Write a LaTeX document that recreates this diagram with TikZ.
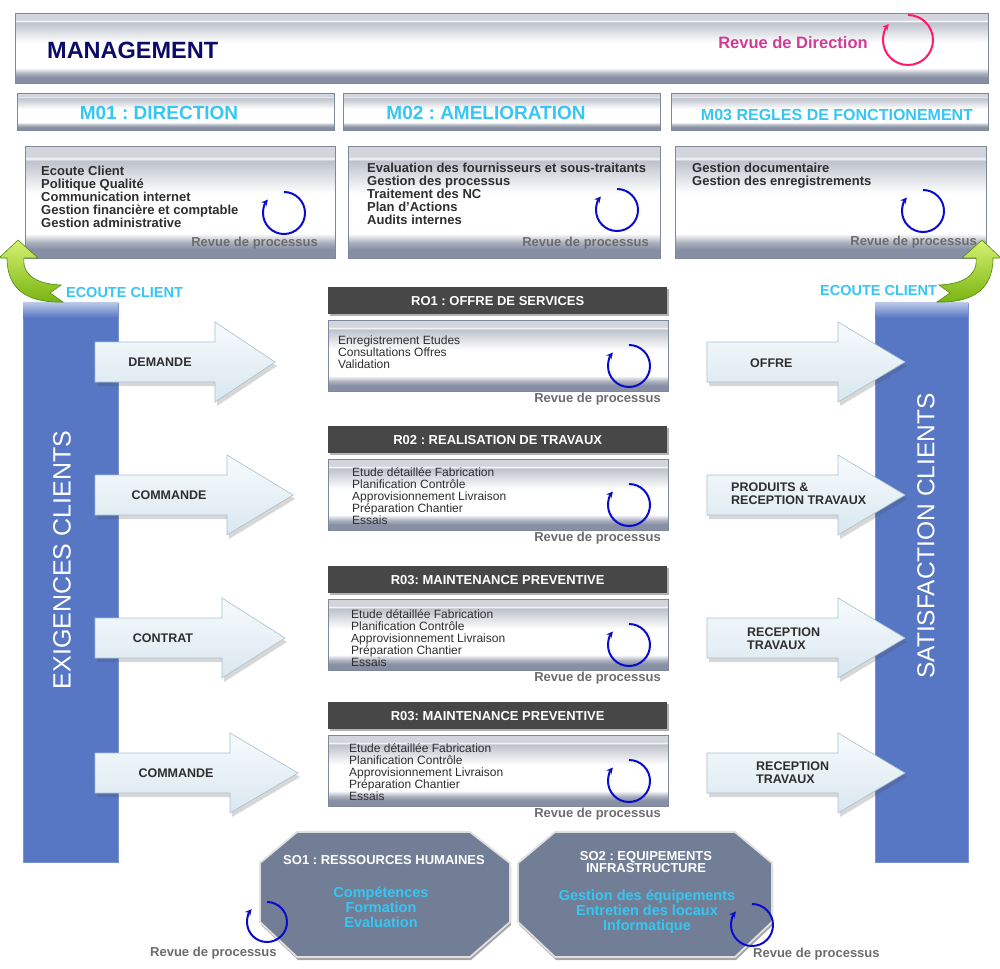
\documentclass[tikz,border=0pt]{standalone}
\usepackage{fontspec}
\setmainfont{Liberation Sans}
\usetikzlibrary{arrows.meta,shadows,positioning}
\frenchspacing

\definecolor{mtop}{HTML}{D2D5DC}
\definecolor{mshine}{HTML}{F5F6F8}
\definecolor{mhigh}{HTML}{BDC2CB}
\definecolor{mlow}{HTML}{AAB0BD}
\definecolor{mbot}{HTML}{868FA3}
\definecolor{boxline}{HTML}{7E879B}
\definecolor{navy}{HTML}{0C0C68}
\definecolor{dirpink}{HTML}{D23A98}
\definecolor{cycpink}{HTML}{FF1A66}
\definecolor{cycblue}{HTML}{0B0BCC}
\definecolor{mcyan}{HTML}{36C6F4}
\definecolor{txtgray}{HTML}{2E2E2E}
\definecolor{revgray}{HTML}{6C6C6C}
\definecolor{headgray}{HTML}{474747}
\definecolor{barblue}{HTML}{5777C5}
\definecolor{arrtop}{HTML}{F7FBFD}
\definecolor{arrbot}{HTML}{D9E7EF}
\definecolor{arrline}{HTML}{A6C1D0}
\definecolor{octfill}{HTML}{727E95}
\definecolor{limetop}{HTML}{D6F070}
\definecolor{limebot}{HTML}{78B410}
\definecolor{limeline}{HTML}{4E8A0C}

\pgfdeclareverticalshading{metal}{100bp}{color(0bp)=(mbot); color(25bp)=(mbot); color(29bp)=(mbot); color(32bp)=(mlow); color(36bp)=(white); color(54bp)=(white); color(68.5bp)=(mhigh); color(69.5bp)=(mshine); color(70.5bp)=(mtop); color(75bp)=(mtop); color(100bp)=(mtop)}

\begin{document}
\begin{tikzpicture}[x=1pt,y=-1pt,
    metalbox/.style={shading=metal,draw=boxline,line width=0.6pt,inner sep=0pt,anchor=north west},
    headbar/.style={fill=headgray,inner sep=0pt,anchor=north west,
        drop shadow={fill=black,opacity=0.3,shadow xshift=2pt,shadow yshift=-2pt}},
    bluebar/.style={fill=barblue,draw=barblue!80!white,line width=1.2pt,inner sep=0pt,anchor=north west},
    flowarrow/.style={top color=arrtop,bottom color=arrbot,draw=arrline,line width=0.6pt,
        drop shadow={fill=black!70,opacity=0.22,shadow xshift=2pt,shadow yshift=-4pt}},
    octo/.style={fill=octfill,draw=white!88!black,line width=1.8pt,
        drop shadow={fill=black,opacity=0.35,shadow xshift=1pt,shadow yshift=-3pt}},
    curlarrow/.style={top color=limetop,bottom color=limebot,draw=limeline,line width=0.6pt},
    mtitle/.style={font=\bfseries\fontsize{19}{21}\selectfont,text=mcyan,inner sep=0pt},
    boxtext/.style={font=\bfseries\fontsize{13}{13}\selectfont,text=txtgray,align=left,anchor=north west,inner sep=0pt},
    proctext/.style={font=\fontsize{12}{12}\selectfont,text=txtgray,align=left,anchor=north west,inner sep=0pt},
    revtext/.style={font=\bfseries\fontsize{13}{14}\selectfont,text=revgray,inner sep=0pt},
    headtext/.style={font=\bfseries\fontsize{13}{14}\selectfont,text=white,inner sep=0pt},
    arrowlabel/.style={font=\bfseries\fontsize{12.5}{13}\selectfont,text=txtgray,align=left,inner sep=0pt},
    ecoute/.style={font=\bfseries\fontsize{14.5}{15}\selectfont,text=mcyan,inner sep=0pt},
    barlabel/.style={font=\fontsize{25}{25}\selectfont,text=white,rotate=90,inner sep=0pt},
    sotitle/.style={font=\bfseries\fontsize{13}{12.5}\selectfont,text=white,align=center,inner sep=0pt},
    sotext/.style={font=\bfseries\fontsize{14.5}{15}\selectfont,text=mcyan,align=center,inner sep=0pt},
    pics/revue/.style={code={\draw[line width=2pt,-{Stealth[length=6.5pt,width=6.5pt]}]
        (90:#1) arc[start angle=90,end angle=-220,radius=#1];}}]

  \useasboundingbox (0,0) rectangle (1000,968);
  \fill[white] (0,0) rectangle (1000,968);

  % management
  \node[metalbox,minimum width=973pt,minimum height=70pt] (mgmt) at (15,13) {};
  \node[font=\bfseries\fontsize{23.5}{25}\selectfont,text=navy,anchor=west,inner sep=0pt] (mgmttxt) at (47,50) {MANAGEMENT};
  \node[font=\bfseries\fontsize{16.5}{18}\selectfont,text=dirpink,inner sep=0pt] (revdir) at (793,43) {Revue de Direction};
  \pic[color=cycpink] at (908,40) {revue=25pt};

  % M01 - M03
  \node[metalbox,minimum width=317pt,minimum height=37pt] (m01) at (17,93) {};
  \node[metalbox,minimum width=317pt,minimum height=37pt] (m02) at (343,93) {};
  \node[metalbox,minimum width=317pt,minimum height=37pt] (m03) at (671,93) {};
  \node[mtitle] (m01txt) at (159,113) {M01 : DIRECTION};
  \node[mtitle] (m02txt) at (486,113) {M02 : AMELIORATION};
  \node[mtitle,font=\bfseries\fontsize{16}{18}\selectfont] (m03txt) at (837,115) {M03 REGLES DE FONCTIONEMENT};

  \node[metalbox,minimum width=310pt,minimum height=112pt] (c01) at (25,146) {};
  \node[metalbox,minimum width=312pt,minimum height=112pt] (c02) at (348,146) {};
  \node[metalbox,minimum width=311pt,minimum height=112pt] (c03) at (675,146) {};
  \node[boxtext] (c01txt) at (41,166) {Ecoute Client\\Politique Qualité\\Communication internet\\Gestion financière et comptable\\Gestion administrative};
  \node[boxtext] (c02txt) at (367,163) {Evaluation des fournisseurs et sous-traitants\\Gestion des processus\\Traitement des NC\\Plan d'Actions\\Audits internes};
  \node[boxtext] (c03txt) at (692,163) {Gestion documentaire\\Gestion des enregistrements};
  \foreach \cx/\cy in {284/213, 617/210, 923/211}
    \pic[color=cycblue] at (\cx,\cy) {revue=21pt};
  \node[revtext,anchor=base east] (c01rev) at (318,247) {Revue de processus};
  \node[revtext,anchor=base east] (c02rev) at (649,247) {Revue de processus};
  \node[revtext,anchor=base east] (c03rev) at (977,245) {Revue de processus};

  % client bars
  \node[bluebar,minimum width=95pt,minimum height=559pt] (exigbar) at (23,303) {};
  \node[bluebar,minimum width=93pt,minimum height=559pt] (satbar) at (875,303) {};
  \fill[top color=barblue!40!white,bottom color=barblue] (23,302) rectangle (118,318);
  \fill[top color=barblue!40!white,bottom color=barblue] (875,302) rectangle (968,318);
  \node[barlabel] (exig) at (62,560) {EXIGENCES CLIENTS};
  \node[barlabel,font=\fontsize{24.5}{25}\selectfont] (sat) at (926,536) {SATISFACTION CLIENTS};

  % realisation processes
  \foreach \i/\yh/\dy/\tx/\ttl/\body in {
      1/287/49/338/{RO1 : OFFRE DE SERVICES}/{Enregistrement Etudes\\Consultations Offres\\Validation},
      2/426/41/352/{R02 : REALISATION DE TRAVAUX}/{Etude détaillée Fabrication\\Planification Contrôle\\Approvisionnement Livraison\\Préparation Chantier\\Essais},
      3/566/43/351/{R03: MAINTENANCE PREVENTIVE}/{Etude détaillée Fabrication\\Planification Contrôle\\Approvisionnement Livraison\\Préparation Chantier\\Essais},
      4/702/41/349/{R03: MAINTENANCE PREVENTIVE}/{Etude détaillée Fabrication\\Planification Contrôle\\Approvisionnement Livraison\\Préparation Chantier\\Essais}}{
    \node[headbar,minimum width=339pt,minimum height=27pt] (hd\i) at (328,\yh) {};
    \node[headtext] (hdt\i) at (hd\i.center) {\ttl};
    \node[metalbox,minimum width=340pt,minimum height=71pt] (pc\i) at (328,\yh+33) {};
    \node[proctext] (pct\i) at (\tx,\yh+\dy) {\body};
    \pic[color=cycblue] at (629,\yh+79) {revue=21pt};
    \node[revtext,anchor=base east] (pcr\i) at (661,\yh+115) {Revue de processus};
  }

  % inputs
  \foreach \i/\yc/\hx/\tx/\lx/\lbl in {1/362/215/275/160/DEMANDE, 2/495/227/293/169/COMMANDE,
      3/638/222/285/163/CONTRAT, 4/773/230/298/176/COMMANDE}{
    \path[flowarrow] (95,\yc-20) -- (\hx,\yc-20) -- (\hx,\yc-40) -- (\tx,\yc)
      -- (\hx,\yc+40) -- (\hx,\yc+20) -- (95,\yc+20) -- cycle;
    \node[arrowlabel] (in\i) at (\lx,\yc) {\lbl};
  }

  % outputs
  \foreach \i/\yc/\lx/\ly/\lbl in {1/362/750/363/OFFRE, 2/495/731/493.5/{PRODUITS \&\\RECEPTION TRAVAUX},
      3/638/747/638.5/{RECEPTION\\TRAVAUX}, 4/773/756/773/{RECEPTION\\TRAVAUX}}{
    \path[flowarrow] (707,\yc-20) -- (838,\yc-20) -- (838,\yc-40) -- (905,\yc)
      -- (838,\yc+40) -- (838,\yc+20) -- (707,\yc+20) -- cycle;
    \node[arrowlabel,anchor=west] (out\i) at (\lx,\ly) {\lbl};
  }

  % ecoute client
  \path[curlarrow] (18,240) -- (38,258) -- (24,258) .. controls (22,276) and (38,284) .. (61,285)
    -- (50,293) -- (63,302) .. controls (28,303) and (7,290) .. (7,258) -- (-1,258) -- cycle;
  \path[curlarrow] (982,240) -- (1001,258) -- (993,258) .. controls (993,290) and (972,303) .. (937,302)
    -- (950,293) -- (939,285) .. controls (962,284) and (978,276) .. (976,258) -- (962,258) -- cycle;
  \node[ecoute] (ecl) at (124.5,293) {ECOUTE CLIENT};
  \node[ecoute] (ecr) at (878.5,291) {ECOUTE CLIENT};

  % support processes
  \path[octo] (297,832) -- (470,832) -- (510,863) -- (510,922) -- (470,957) -- (297,957) -- (260,922) -- (260,863) -- cycle;
  \path[octo] (555,832) -- (735,832) -- (772,863) -- (772,922) -- (735,957) -- (555,957) -- (518,922) -- (518,863) -- cycle;
  \node[sotitle] (so1) at (384,860) {SO1 : RESSOURCES HUMAINES};
  \node[sotext] (so1txt) at (381,907) {Compétences\\Formation\\Evaluation};
  \node[sotitle] (so2) at (646,862) {SO2 : EQUIPEMENTS\\INFRASTRUCTURE};
  \node[sotext] (so2txt) at (647,912) {Gestion des équipements\\Entretien des locaux\\Informatique};
  \pic[color=cycblue] at (267,922) {revue=20pt};
  \pic[color=cycblue] at (752,925) {revue=21pt};
  \node[revtext,anchor=base west] (so1rev) at (150,956) {Revue de processus};
  \node[revtext,anchor=base west] (so2rev) at (753,957) {Revue de processus};

\end{tikzpicture}
\end{document}
